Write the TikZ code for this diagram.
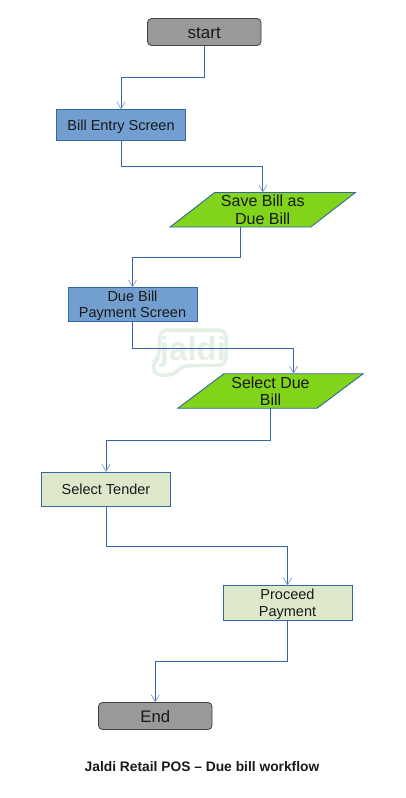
\documentclass[tikz,border=0pt]{standalone}
\usepackage{fontspec}
\setmainfont{Liberation Sans}
\usetikzlibrary{shapes.geometric,arrows.meta}
\definecolor{edgeblue}{HTML}{3465A4}
\definecolor{headblue}{HTML}{7F9FCB}
\definecolor{screenblue}{HTML}{729FCF}
\definecolor{actgreen}{HTML}{81D41A}
\definecolor{palegreen}{HTML}{DDE8CB}
\definecolor{termgray}{HTML}{999999}
\definecolor{markgreen}{HTML}{E4F0E6}
\newcommand{\lowerby}[2]{\raisebox{-#1}[\height][\depth]{\begin{tabular}{@{}c@{}}#2\end{tabular}}}
\tikzset{
  every node/.style={inner sep=0pt,outer sep=0pt,align=center,text=black!90},
  boxbase/.style={rectangle,draw=edgeblue,line width=.9pt,minimum width=129pt},
  screenbox/.style={boxbase,fill=screenblue},
  tenderbox/.style={boxbase,fill=palegreen},
  termbox/.style={rectangle,rounded corners=4pt,draw=black!75,line width=.8pt,fill=termgray,minimum width=113.5pt,minimum height=27pt},
  para/.style={trapezium,trapezium stretches=true,trapezium left angle=37,trapezium right angle=143,draw=edgeblue,line width=.9pt,fill=actgreen,minimum width=185.5pt,minimum height=34.5pt},
  conn/.style={draw=edgeblue,line width=.9pt,-{Straight Barb[length=7pt,width=8pt,line width=.7pt,color=headblue]}},
  mainfs/.style={font=\fontsize{14.5pt}{17pt}\selectfont},
  duefs/.style={font=\fontsize{14.5pt}{16pt}\selectfont},
  parafs/.style={font=\fontsize{16pt}{17.5pt}\selectfont},
}
\begin{document}
\begin{tikzpicture}[x=1pt,y=-1pt]
\useasboundingbox (0,0) rectangle (406,798);
% watermark
\fill[white,draw=markgreen,line width=3.5pt,rounded corners=7pt]
  (160,330) -- (226,330) -- (226,365) -- (181,366) -- (175,375) -- (154,375) -- (153,362) -- (159,358) -- cycle;
\node[text=markgreen,font=\bfseries\fontsize{33pt}{33pt}\selectfont,anchor=base] (mark) at (193,360) {jaldi};
% nodes
\node[termbox,font=\fontsize{17pt}{19pt}\selectfont] (start) at (204.25,32) {\lowerby{3pt}{start}};
\node[screenbox,mainfs,minimum height=30.5pt] (bill) at (121,124.75) {\lowerby{2.6pt}{Bill Entry Screen}};
\node[para,parafs] (save) at (262.75,209.75) {Save Bill as\\Due Bill};
\node[screenbox,duefs,minimum height=34pt] (due) at (132.5,304.5) {\lowerby{1.3pt}{Due Bill\\Payment Screen}};
\node[para,parafs] (select) at (270.5,391) {Select Due\\Bill};
\node[tenderbox,mainfs,minimum height=34.5pt] (tender) at (106,489.25) {Select Tender};
\node[tenderbox,mainfs,minimum height=34.5pt] (proceed) at (287.5,602.75) {\lowerby{1.8pt}{Proceed\\Payment}};
\node[termbox,font=\fontsize{16.7pt}{19pt}\selectfont] (end) at (155.25,716) {\lowerby{2.5pt}{End}};
\node[font=\bfseries\fontsize{13.8pt}{15pt}\selectfont] (title) at (202,767) {Jaldi Retail POS – Due bill workflow};
% connectors
\draw[conn] (start.south) -- ++(0,32) -| (bill.north);
\draw[conn] (bill.south) -- ++(0,26) -| (save.north);
\draw[conn] (save.bottom side) -- ++(0,30) -| (due.north);
\draw[conn] (due.south) -- ++(0,26.5) -| (select.top side);
\draw[conn] (select.south) -- ++(0,32) -| (tender.north);
\draw[conn] (tender.south) -- ++(0,39.5) -| (proceed.north);
\draw[conn] (proceed.south) -- ++(0,41) -| (end.north);
\end{tikzpicture}
\end{document}
